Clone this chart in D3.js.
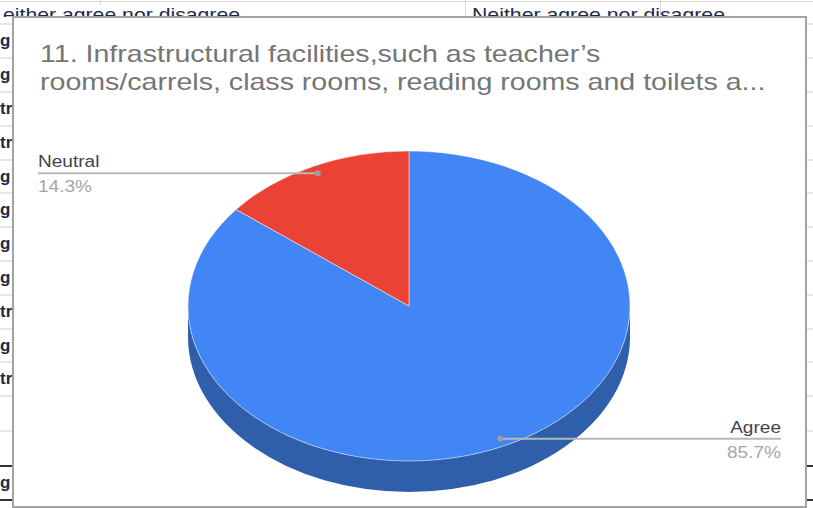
<!DOCTYPE html>
<html>
<head>
<meta charset="utf-8">
<script src="https://cdn.jsdelivr.net/npm/d3@7"></script>
<style>
  html, body { margin: 0; padding: 0; background: #ffffff; }
  svg { display: block; }
</style>
</head>
<body>
<svg id="chart" width="813" height="508"></svg>
<script>
// ---- chart data ----
const categories = ["Agree", "Neutral"];
const shares = [85.7, 14.3];
const shareLabels = ["85.7%", "14.3%"];
const sliceColors = ["#4285f4", "#ea4335"];
const sideColors = ["#2f5eaa", "#a8322a"];
const titleLines = [
  "11. Infrastructural facilities,such as teacher\u2019s",
  "rooms/carrels, class rooms, reading rooms and toilets a..."
];

// ---- spreadsheet cells behind the chart ----
const headerTexts = ["either agree nor disagree", "Neither agree nor disagree"];
const leftCellTexts = ["g", "g", "tr", "tr", "g", "g", "g", "g", "tr", "g", "tr", "", "", "g"];

const svg = d3.select("#chart");
const W = 813, H = 508;

// sheet background
const sheet = svg.append("g");
sheet.append("rect").attr("width", W).attr("height", H).attr("fill", "#ffffff");
sheet.append("line").attr("x1", 0).attr("x2", W).attr("y1", 1.5).attr("y2", 1.5)
  .attr("stroke", "#d9d9d9").attr("stroke-width", 1);
[[100, 5], [465, 17], [660, 17]].forEach(([x, y2]) => {
  sheet.append("line").attr("x1", x + 0.5).attr("x2", x + 0.5).attr("y1", 0).attr("y2", y2)
    .attr("stroke", "#d9d9d9");
});

// row grid of the left column
const rowEdges = [24, 58, 92, 126, 160, 193, 227, 261, 295, 329, 362, 396, 431, 466, 500];
const rowY = d3.scaleOrdinal().domain(d3.range(leftCellTexts.length))
  .range(d3.range(leftCellTexts.length).map(i => (rowEdges[i] + rowEdges[i + 1]) / 2));
rowEdges.forEach((y, i) => {
  const dark = i >= rowEdges.length - 2;
  sheet.append("line").attr("x1", 0).attr("x2", W).attr("y1", y).attr("y2", y)
    .attr("stroke", dark ? "#333333" : "#dedede").attr("stroke-width", dark ? 2 : 1.5);
});
leftCellTexts.forEach((t, i) => {
  sheet.append("text").attr("x", 0).attr("y", rowY(i) + 5)
    .attr("font-family", "Liberation Sans, Arial, sans-serif")
    .attr("font-size", 17).attr("font-weight", "bold").attr("fill", "#1d2a48").text(t);
});

// column header fragments, partly hidden behind the chart frame
const headerX = [[3, 240], [472, 725]];
headerTexts.forEach((t, i) => {
  sheet.append("text")
    .attr("x", headerX[i][0]).attr("y", 21)
    .attr("font-family", "Liberation Sans, Arial, sans-serif")
    .attr("font-size", 19).attr("fill", "#1d2a48").text(t)
    .attr("textLength", headerX[i][1] - headerX[i][0]).attr("lengthAdjust", "spacingAndGlyphs");
});
// white cell background under the header row's left part (row line sits below)
sheet.append("rect").attr("x", 0).attr("y", 17).attr("width", 13).attr("height", 6).attr("fill", "#ffffff");

// ---- chart frame ----
const frame = { x: 13, y: 17, w: 793, h: 490 };
svg.append("rect")
  .attr("x", frame.x).attr("y", frame.y).attr("width", frame.w).attr("height", frame.h)
  .attr("fill", "#ffffff").attr("stroke", "#a3a3a3").attr("stroke-width", 2);

const chart = svg.append("g");
const stretch = 1.19; // horizontal text stretch of the chart rendering

function fitText(sel) {
  const w = sel.node().getComputedTextLength();
  sel.attr("textLength", w * stretch).attr("lengthAdjust", "spacingAndGlyphs");
  return w * stretch;
}

// title
titleLines.forEach((line, i) => {
  const t = chart.append("text").attr("x", 40).attr("y", 62 + i * 28)
    .attr("font-family", "Liberation Sans, Arial, sans-serif")
    .attr("font-size", 24).attr("fill", "#757575").text(line);
  fitText(t);
});

// ---- 3D pie ----
const cx = 409, cy = 306, rx = 221, ry = 155, depth = 31;
const arcs = d3.pie().sort(null).value(d => d)(shares);

// angle measured clockwise from 12 o'clock, projected onto the tilted ellipse
const pt = (a, r = 1, dy = 0) => [cx + rx * r * Math.sin(a), cy - ry * r * Math.cos(a) + dy];

// side walls: only the front half (angles between 90° and 270°) is visible
arcs.forEach((d, i) => {
  const s = Math.max(d.startAngle, Math.PI / 2);
  const e = Math.min(d.endAngle, 3 * Math.PI / 2);
  if (e <= s) return;
  const p0 = pt(s), p1 = pt(e), q1 = pt(e, 1, depth), q0 = pt(s, 1, depth);
  const path = `M${p0}A${rx},${ry} 0 0 1 ${p1}L${q1}A${rx},${ry} 0 0 0 ${q0}Z`;
  chart.append("path").attr("d", path).attr("fill", sideColors[i]);
});

// top faces
arcs.forEach((d, i) => {
  const p0 = pt(d.startAngle), p1 = pt(d.endAngle);
  const large = d.endAngle - d.startAngle > Math.PI ? 1 : 0;
  const path = `M${cx},${cy}L${p0}A${rx},${ry} 0 ${large} 1 ${p1}Z`;
  chart.append("path").attr("d", path).attr("fill", sliceColors[i])
    .attr("stroke", "#ffffff").attr("stroke-opacity", 0.6).attr("stroke-width", 0.8)
    .attr("stroke-linejoin", "round");
});

// ---- leader lines and labels ----
const labelLeft = 38, labelRight = 781;
arcs.forEach((d, i) => {
  const mid = (d.startAngle + d.endAngle) / 2;
  const [dx, dy] = pt(mid, 0.95);
  const onLeft = dx < cx;
  const endX = onLeft ? labelLeft : labelRight;
  chart.append("line").attr("x1", dx).attr("x2", endX).attr("y1", dy).attr("y2", dy)
    .attr("stroke", "#b8b8b8").attr("stroke-width", 2);
  chart.append("circle").attr("cx", dx).attr("cy", dy).attr("r", 3).attr("fill", "#9e9e9e");

  const name = chart.append("text").attr("y", dy - 6)
    .attr("font-family", "Liberation Sans, Arial, sans-serif")
    .attr("font-size", 16).attr("fill", "#444444").text(categories[i]);
  const nw = fitText(name);
  name.attr("x", onLeft ? endX : endX - nw);

  const pct = chart.append("text").attr("y", dy + 19)
    .attr("font-family", "Liberation Sans, Arial, sans-serif")
    .attr("font-size", 16).attr("fill", "#a6a6a6").text(shareLabels[i]);
  const pw = fitText(pct);
  pct.attr("x", onLeft ? endX : endX - pw);
});
</script>
</body>
</html>
